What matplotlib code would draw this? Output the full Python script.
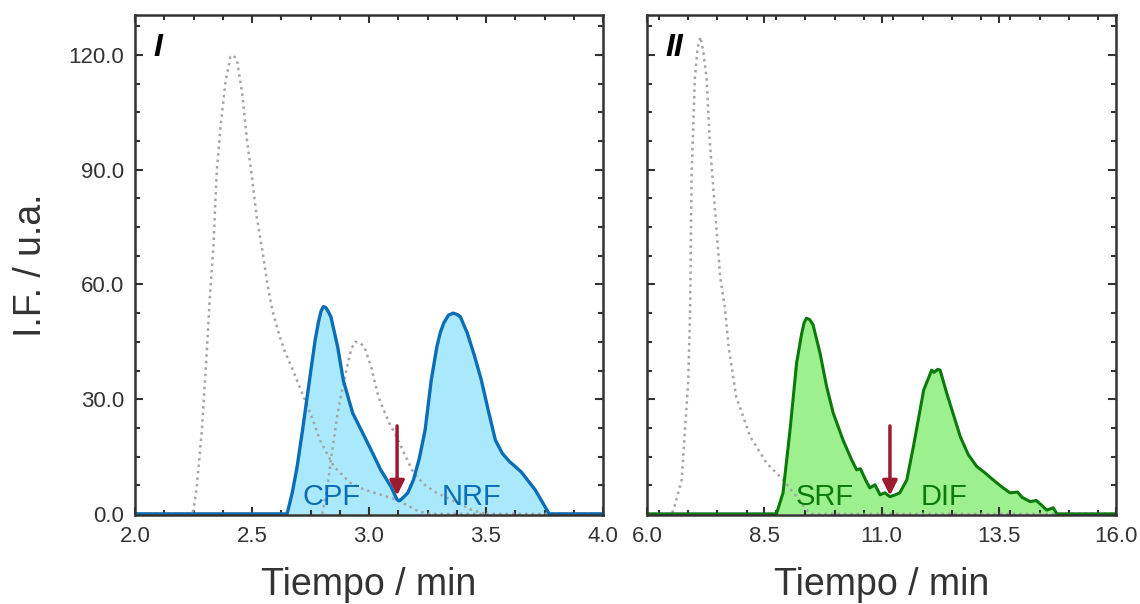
import matplotlib
matplotlib.use('Agg')
import matplotlib.pyplot as plt
from matplotlib.ticker import MultipleLocator, FormatStrFormatter

plt.rcParams['font.family'] = ['Liberation Sans', 'DejaVu Sans']

# ---- panel I data ----
t_cpf = [2.0, 2.64, 2.65, 2.672, 2.693, 2.715, 2.736, 2.755, 2.77, 2.785, 2.795, 2.805,
         2.815, 2.825, 2.837, 2.866, 2.89, 2.93, 2.966,
         3.009, 3.05, 3.094, 3.12, 3.13, 3.145, 3.166, 3.19, 3.215, 3.24, 3.266, 3.29,
         3.305, 3.32, 3.34, 3.36, 3.375,
         3.39, 3.42, 3.45, 3.48, 3.51, 3.54, 3.57, 3.6, 3.65, 3.71, 3.77, 4.0]
y_cpf = [0, 0, 0, 5.5, 12.4, 21.5, 30.7, 39, 45.5, 50.5, 53, 54.2,
         54, 53, 51.6, 43.7, 35, 26.4, 22,
         16.7, 11.5, 7.1, 3.7, 3.4, 4.2, 5.5, 8.9, 14.5, 22, 35, 43.7,
         47.5, 50, 52, 52.5, 52.2,
         51.6, 47.3, 41.5, 35, 27, 19.3, 15.8, 13.7, 11, 6.3, 0, 0]

t_ref1a = [2.0, 2.24, 2.25, 2.264, 2.286, 2.304, 2.32, 2.336, 2.343, 2.35, 2.365, 2.386,
           2.408, 2.42, 2.436, 2.458, 2.48, 2.5, 2.52, 2.544, 2.565, 2.587, 2.615, 2.64,
           2.68, 2.72, 2.76, 2.79, 2.85, 2.92, 2.98, 3.12, 3.2, 3.25, 4.0]
y_ref1a = [0, 0, 1, 7.1, 22, 39.5, 56.8, 70.8, 81.2, 90, 101, 112.7,
           119.6, 120, 118.7, 110, 97, 88, 77.7, 69, 60.4, 53.3, 47, 42.5,
           36.8, 30.7, 24.6, 19.3, 12.4, 8.1, 6.3, 3.7, 1, 0, 0]

t_ref1b = [2.8, 2.823, 2.837, 2.866, 2.894, 2.923, 2.94, 2.96, 2.98, 3.009, 3.04, 3.08, 3.11,
           3.15, 3.19, 3.237, 3.29, 3.366, 3.44, 3.5]
y_ref1b = [0, 7.1, 14.1, 26.4, 35, 42.9, 45, 44.8, 43.7, 38.5, 30.7, 24.6, 21.1,
           15.9, 10.7, 7.6, 5.5, 3.2, 1, 0]

# ---- panel II data ----
t_srf = [6.0, 8.76, 8.9, 9.05, 9.19, 9.3, 9.35, 9.4, 9.47, 9.54, 9.69, 9.83, 9.97, 10.18,
         10.35, 10.47, 10.55, 10.66, 10.75, 10.86, 10.97, 11.07, 11.18, 11.3, 11.39,
         11.54, 11.68, 11.9, 12.07, 12.12, 12.2, 12.25, 12.39, 12.68, 12.85, 13.03,
         13.2, 13.38, 13.55, 13.74, 13.9, 14.0, 14.17, 14.3, 14.42, 14.52, 14.6,
         14.66, 14.74, 16.0]
y_srf = [0, 0, 5.5, 22, 39.5, 47.3, 50, 51.2, 50.8, 49.5, 42, 33.3, 26.4, 19.3,
         14.5, 11.5, 11.8, 8.9, 6.8, 7.6, 5, 5.5, 4.5, 5, 5.5,
         8.9, 17.6, 32.4, 37.6, 37, 37.8, 37.6, 31.6, 20.2, 15.5, 12.4,
         10.8, 8.9, 7.2, 5.5, 5.7, 4.3, 3.2, 3.5, 2.2, 1, 1.3,
         1.6, 0, 0]

t_ref2 = [6.0, 6.53, 6.6, 6.74, 6.88, 6.92, 6.95, 7.02, 7.08, 7.14, 7.2, 7.27,
          7.34, 7.45, 7.56, 7.66, 7.74, 7.9, 8.2, 8.55, 8.9, 9.19, 9.4, 9.5, 16.0]
y_ref2 = [0, 0, 2.5, 8.9, 35, 54, 88, 114, 122, 124.8, 121, 114,
          97, 79.5, 62, 54, 43.7, 30.7, 20.2, 13.3, 8.9, 4.5, 1, 0, 0]

labels1 = ['CPF', 'NRF']
labels1_x = [2.84, 3.44]
labels2 = ['SRF', 'DIF']
labels2_x = [9.8, 12.33]
arrow_x = [3.12, 11.18]

blue_line, blue_fill = '#0b6db5', '#aae9fc'
green_line, green_fill = '#0b7a0b', '#9cf08e'
gray = '#a5a5a5'
dark_red = '#9b1b30'
dark = '#333333'

fig = plt.figure(figsize=(11.4, 6.04), dpi=100)
ax1 = fig.add_axes([135 / 1140, 89 / 604, 468 / 1140, 500 / 604])
ax2 = fig.add_axes([647 / 1140, 89 / 604, 469 / 1140, 500 / 604])

dot = (0, (1, 1.6))

ax1.fill_between(t_cpf, y_cpf, color=blue_fill, lw=0)
ax1.plot(t_ref1a, y_ref1a, color=gray, lw=1.8, ls=dot)
ax1.plot(t_ref1b, y_ref1b, color=gray, lw=1.8, ls=dot)
ax1.plot(t_cpf, y_cpf, color=blue_line, lw=2.4)

ax2.fill_between(t_srf, y_srf, color=green_fill, lw=0)
ax2.plot(t_ref2, y_ref2, color=gray, lw=1.8, ls=dot)
ax2.plot(t_srf, y_srf, color=green_line, lw=2.2)

for lab, x in zip(labels1, labels1_x):
    ax1.text(x, 4.5, lab, color=blue_line, fontsize=21, ha='center', va='center')
for lab, x in zip(labels2, labels2_x):
    ax2.text(x, 4.5, lab, color=green_line, fontsize=21, ha='center', va='center')

for ax, xa in zip([ax1, ax2], arrow_x):
    ax.annotate('', xy=(xa, 4.8), xytext=(xa, 23),
                arrowprops=dict(arrowstyle='-|>', color=dark_red, lw=2.5,
                                mutation_scale=22, shrinkA=0, shrinkB=0))

ax1.text(0.04, 0.965, 'I', transform=ax1.transAxes, fontsize=23, fontweight='bold',
         fontstyle='italic', ha='left', va='top')
ax2.text(0.04, 0.965, 'II', transform=ax2.transAxes, fontsize=23, fontweight='bold',
         fontstyle='italic', ha='left', va='top')

ax1.set_xlim(2.0, 4.0)
ax2.set_xlim(6.0, 16.0)
ax1.xaxis.set_major_locator(MultipleLocator(0.5))
ax1.xaxis.set_minor_locator(MultipleLocator(0.125))
ax2.set_xticks([6.0, 8.5, 11.0, 13.5, 16.0])
ax2.xaxis.set_minor_locator(MultipleLocator(0.625))

for ax in [ax1, ax2]:
    ax.set_ylim(-0.3, 130.5)
    ax.yaxis.set_major_locator(MultipleLocator(30))
    ax.yaxis.set_minor_locator(MultipleLocator(7.5))
    ax.xaxis.set_major_formatter(FormatStrFormatter('%.1f'))
    ax.yaxis.set_major_formatter(FormatStrFormatter('%.1f'))
    ax.tick_params(which='both', direction='in', top=True, right=True,
                   color=dark, width=1.5, labelsize=16, labelcolor=dark)
    ax.tick_params(which='major', length=6, pad=8)
    ax.tick_params(which='minor', length=3.5)
    for s in ax.spines.values():
        s.set_color(dark)
        s.set_linewidth(1.8)
    ax.set_xlabel('Tiempo / min', fontsize=27, color=dark, labelpad=14)

ax2.tick_params(labelleft=False)
ax1.set_ylabel('I.F. / u.a.', fontsize=27, color=dark, labelpad=14)

fig.savefig('out.png', dpi=100)
